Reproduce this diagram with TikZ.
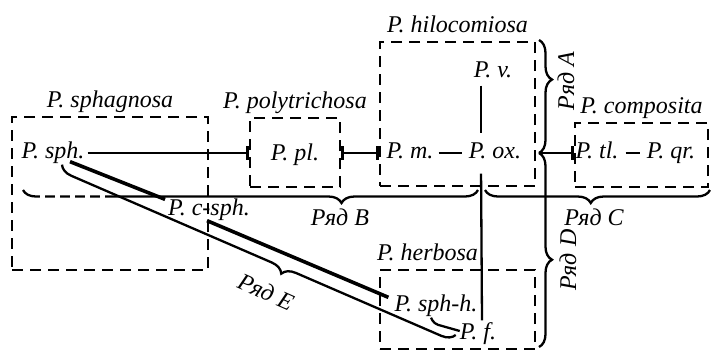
\documentclass[tikz,border=0pt]{standalone}
\usepackage{fontspec}
\setmainfont{Liberation Serif}
\usetikzlibrary{arrows.meta, calc, fit, decorations.pathreplacing}

\begin{document}
\begin{tikzpicture}[
    x = 0.5pt, y = -0.5pt, line width = 1.15pt,
    group/.style={draw, line width=1.4pt, dash pattern=on 5.5pt off 3.5pt, inner sep=0pt, label distance=3pt},
    every label/.style={font=\fontsize{12}{14}\selectfont\itshape, inner sep=1pt, text depth=2.5pt},
    taxon/.style={inner sep=1pt, text height=8pt, text depth=2.5pt, font=\fontsize{12}{14}\selectfont\itshape},
    chain/.style={line width=1.8pt},
    series/.style={decorate, decoration={brace, amplitude=6.5pt, aspect=#1}},
    seriesflip/.style={series=#1, decoration={mirror}},
    seriesname/.style={font=\fontsize{12}{14}\selectfont\itshape, inner sep=1pt}
]
    \useasboundingbox (0,0) rectangle (711,350);

    \node[group, fit={(12,117) (208,270)}, label=above:P. sphagnosa] (sphagnosa) {};
    \node[group, fit={(250,118) (340,187)}, label=above:P. polytrichosa] (polytrichosa) {};
    \node[group, fit={(380,42) (535,186)}, label=above:P. hilocomiosa] (hilocomiosa) {};
    \node[group, fit={(575,123) (708,187)}, label=above:P. composita] (composita) {};
    \node[group, fit={(380,270) (535,349)}, label={[xshift=-15pt]above:P. herbosa}] (herbosa) {};

    \node[taxon] (sph) at (53,153) {P. sph.};
    \node[taxon] (pl) at (295,155) {P. pl.};
    \node[taxon] (m) at (410,153) {P. m.};
    \node[taxon] (ox) at (495,153) {P. ox.};
    \node[taxon] (v) at (493,72) {P. v.};
    \node[taxon] (tl) at (597,153) {P. tl.};
    \node[taxon] (qr) at (671,153) {P. qr.};
    \node[taxon] (csph) at (209,210) {P. c-sph.};
    \node[taxon] (sphh) at (436,306) {P. sph-h.};
    \node[taxon] (f) at (478,334) {P. f.};

    \coordinate (fork) at (539,153);

    \draw[-{Bar[width=7pt]}] (sph.east) -- (sph.east -| polytrichosa.west);
    \draw[{Bar[width=7pt]}-{Bar[width=7pt]}] (m -| polytrichosa.east) -- (m -| hilocomiosa.west);
    \draw[shorten <=1pt, shorten >=2pt] (m) -- (ox);
    \draw[shorten >=3pt] ([xshift=-6pt]v.south) -- ([xshift=-7pt]ox.north);
    \draw[shorten <=3.5pt] ([xshift=-7pt]ox.south) -- ([xshift=2pt]f.north);
    \draw[-{Bar[width=7pt]}] (fork) -- (fork -| composita.west);
    \draw[shorten <=2pt, shorten >=2pt] (tl) -- (qr);

    \draw[chain] ($(sph.south)+(17,-5)$) -- ($(csph.north west)+(0,3)$);
    \draw[chain] ($(csph.south)+(-2,-3)$) -- ($(sphh.north west)+(-3,5)$);
    \draw[rounded corners=2pt] ($(sphh.south)+(-5,-2)$) -- ++(3,6) -- ($(f.west)+(3,-3)$);

    \draw[series=0.35] (539,40) -- (fork);
    \draw[series=0.55] (fork) -- (539,347);
    \draw[seriesflip=0.70] (23,190) -- (478,190);
    \draw[white, line width=2.5pt, dash pattern=on 2.5pt off 5pt] (40,197) -- (112,197);
    \draw[seriesflip=0.47] (485,190) -- (710,190);
    \draw[seriesflip=0.57] ($(sph.south)+(9,-2)$) -- ($(f.west)+(-1,1)$);

    \node[seriesname] (rowB) at (340,217) {Ряд B};
    \node[seriesname] (rowC) at (594,217) {Ряд C};
    \node[seriesname, rotate=90] (rowA) at (566,81) {Ряд A};
    \node[seriesname, rotate=90] (rowD) at (568,260) {Ряд D};
    \node[seriesname, rotate=-24] (rowE) at (266,292) {Ряд E};
\end{tikzpicture}
\end{document}
